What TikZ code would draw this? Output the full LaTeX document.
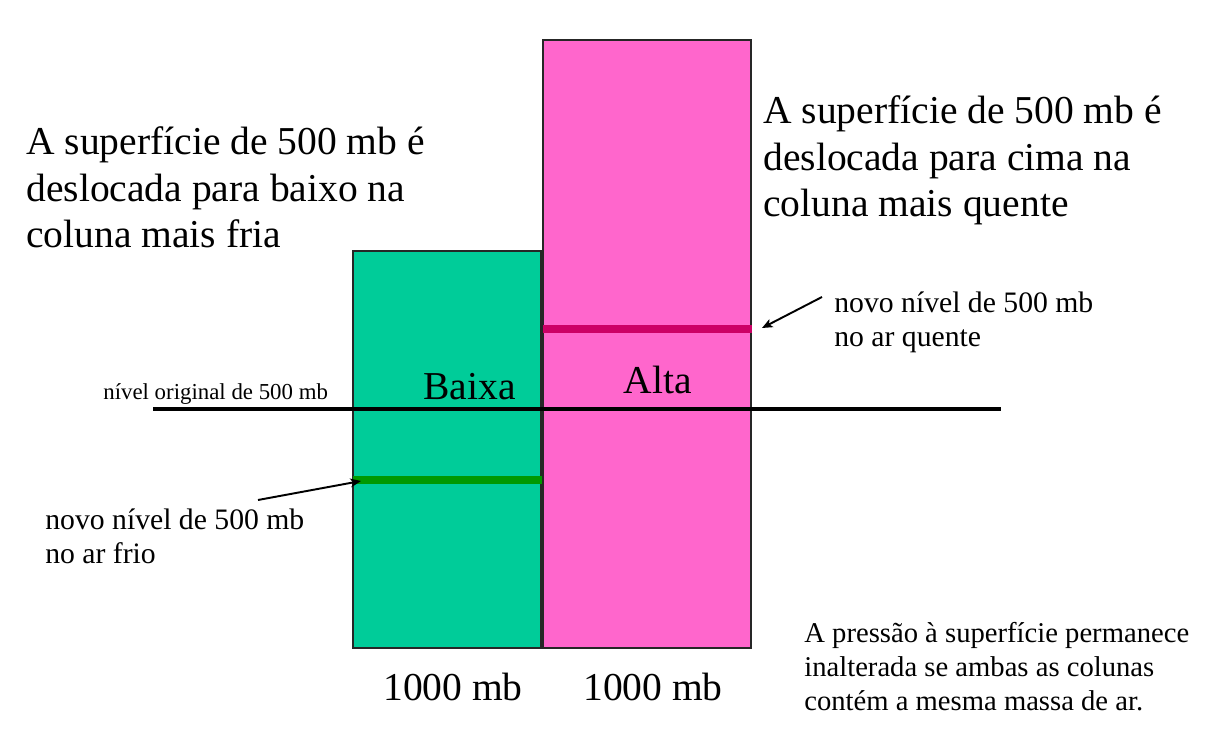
\documentclass[tikz,border=0pt]{standalone}
\usepackage{fontspec}
\setmainfont{Liberation Serif}
\newfontfamily\timesfont{Liberation Serif}
\usetikzlibrary{positioning}
\usetikzlibrary{arrows,arrows.meta,shapes}
\usetikzlibrary{calc}
\definecolor{coldfill}{HTML}{00CC99}
\definecolor{coldline}{HTML}{009900}
\definecolor{warmfill}{HTML}{FF66CC}
\definecolor{warmline}{HTML}{CC0066}
\tikzstyle{column}=[rectangle,draw=black!85,line width=1pt,inner sep=0pt]
\tikzstyle{level} = [draw,line width=4pt]
\tikzstyle{pointer} = [draw,line width=1.1pt,-{Stealth[length=6pt,width=5pt,inset=1.5pt]}]
\tikzstyle{bigtext} = [inner sep=0pt,align=left,font=\timesfont\fontsize{22.5}{26.6}\selectfont]
\tikzstyle{midtext} = [inner sep=0pt,align=left,font=\timesfont\fontsize{16.9}{19.6}\selectfont]
\tikzstyle{smalltext} = [inner sep=0pt,font=\timesfont\fontsize{13}{15.6}\selectfont]

\begin{document}
\begin{tikzpicture}[x=0.02cm,y=-0.02cm]
    \useasboundingbox (0,0) rectangle (1227,732);

    % the two columns
    \node[column,fill=coldfill,minimum width=188*0.02cm,minimum height=397*0.02cm] (cold) at (447,449.5) {};
    \node[column,fill=warmfill,minimum width=208*0.02cm,minimum height=608*0.02cm] (warm) at (647,344) {};

    % original and new 500 mb levels
    \coordinate (origL) at (153,409);
    \coordinate (origR) at (1001,409);
    \path[level,line width=2.2pt] (origL) -- (origR);
    \path[level,coldline] ($(cold.west)+(1,30.5)$) -- ($(cold.east)+(0,30.5)$);
    \path[level,warmline] ($(warm.west)+(1,-15)$) -- ($(warm.east)+(0,-15)$);

    \node[smalltext,anchor=base west] (orig) at (103,400) {nível original de 500 mb};

    \foreach \pos/\name/\label in {{(469.5,400)/low/Baixa}, {(658,394)/high/Alta}, {(453,701)/baseL/1000 mb}, {(653,701)/baseR/1000 mb}}
        \node[bigtext,anchor=base] (\name) at \pos {\label};

    \node[bigtext,anchor=base west] (coldnote) at (26,248) {A superfície de 500 mb é\\deslocada para baixo na\\coluna mais fria};
    \node[bigtext,anchor=base west] (warmnote) at (763,217) {A superfície de 500 mb é\\deslocada para cima na\\coluna mais quente};

    \node[midtext,anchor=base west] (coldlvl) at (45,564) {novo nível de 500 mb\\no ar frio};
    \node[midtext,anchor=base west] (warmlvl) at (834,347) {novo nível de 500 mb\\no ar quente};

    \node[midtext,anchor=base west,font=\timesfont\fontsize{16.3}{19.3}\selectfont] (surface) at (804,710) {A pressão à superfície permanece\\inalterada se ambas as colunas\\contém a mesma massa de ar.};

    \coordinate (coldtail) at (258,500);
    \coordinate (coldtip) at (361,481);
    \coordinate (warmtail) at (822,297);
    \coordinate (warmtip) at (762,328);
    \path[pointer] (coldtail) -- (coldtip);
    \path[pointer] (warmtail) -- (warmtip);

\end{tikzpicture}
\end{document}
